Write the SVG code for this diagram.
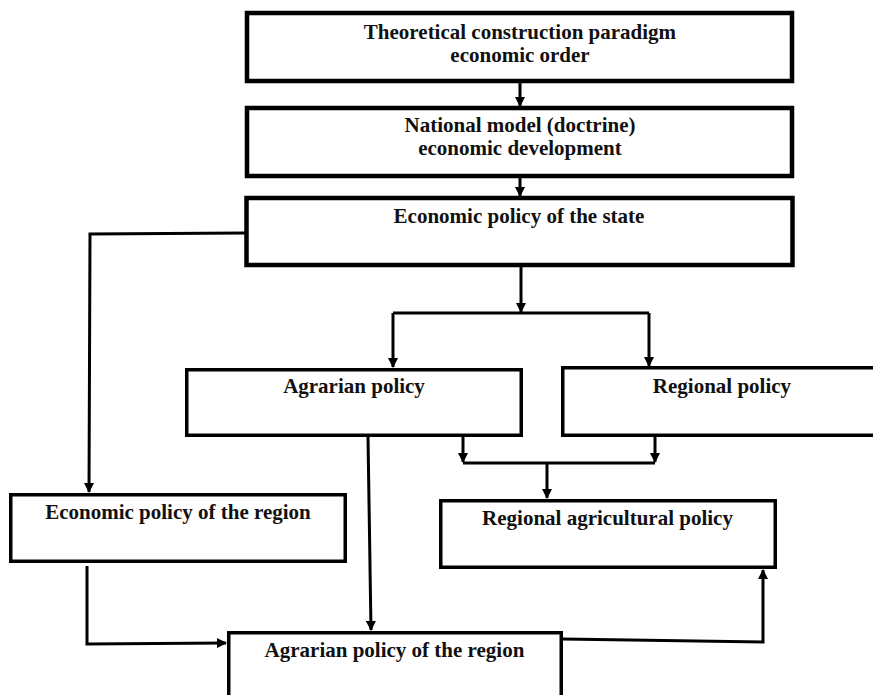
<svg xmlns="http://www.w3.org/2000/svg" width="873" height="695" viewBox="0 0 873 695">
  <defs>
    <marker id="ah" viewBox="0 0 10 10" markerWidth="11" markerHeight="10" refX="9" refY="5" orient="auto" markerUnits="userSpaceOnUse">
      <path d="M0,0 L10,5 L0,10 z" fill="#000"/>
    </marker>
  </defs>
  <style>
    .box { fill: #fff; stroke: #000; }
    .thick { stroke-width: 4.5; }
    .thin { stroke-width: 3.5; }
    .lbl { font-family: "Liberation Serif", "Times New Roman", serif; font-weight: bold; font-size: 21px; fill: #111; text-anchor: middle; }
    .c { fill: none; stroke: #000; stroke-width: 3; }
    .a { marker-end: url(#ah); }
  </style>
  <rect width="873" height="695" fill="#fff"/>

  <g id="connectors">
    <path class="c a" d="M520,83 L520,106"/>
    <path class="c a" d="M520,178 L520,196"/>
    <path class="c a" d="M245,233 L90,234 L89,492"/>
    <path class="c a" d="M521,267 L521,312"/>
    <path class="c" d="M393,313 L649,313"/>
    <path class="c a" d="M393,313 L393,367"/>
    <path class="c a" d="M649,313 L649,366"/>
    <path class="c a" d="M463,437 L463,462"/>
    <path class="c a" d="M655,437 L655,462"/>
    <path class="c" d="M463,463 L655,463"/>
    <path class="c a" d="M547,463 L547,498"/>
    <path class="c a" d="M368,437 L371,630"/>
    <path class="c a" d="M87,566 L87,644 L226,643"/>
    <path class="c a" d="M563,639 L763,642 L763,570"/>
  </g>

  <g id="n1">
    <rect class="box thick" x="247" y="13" width="545" height="68"/>
    <text class="lbl" x="520" y="39">Theoretical construction paradigm</text>
    <text class="lbl" x="520" y="62">economic order</text>
  </g>
  <g id="n2">
    <rect class="box thick" x="247" y="108" width="545" height="68"/>
    <text class="lbl" x="520" y="132">National model (doctrine)</text>
    <text class="lbl" x="520" y="155">economic development</text>
  </g>
  <g id="n3">
    <rect class="box thick" x="246.5" y="198" width="546" height="67"/>
    <text class="lbl" x="519" y="223">Economic policy of the state</text>
  </g>
  <g id="n4">
    <rect class="box thin" x="186.75" y="369.75" width="334.5" height="65.5"/>
    <text class="lbl" x="354" y="393">Agrarian policy</text>
  </g>
  <g id="n5">
    <rect class="box thin" x="562.75" y="367.75" width="330" height="67.5"/>
    <text class="lbl" x="722" y="393">Regional policy</text>
  </g>
  <g id="n6">
    <rect class="box thin" x="10.75" y="494.75" width="334.5" height="66.5"/>
    <text class="lbl" x="178" y="519">Economic policy of the region</text>
  </g>
  <g id="n7">
    <rect class="box thin" x="440.75" y="500.75" width="334.5" height="66.5"/>
    <text class="lbl" x="607.5" y="525">Regional agricultural policy</text>
  </g>
  <g id="n8">
    <rect class="box thin" x="228.75" y="632.75" width="332.5" height="100"/>
    <text class="lbl" x="394.5" y="657">Agrarian policy of the region</text>
  </g>
</svg>
